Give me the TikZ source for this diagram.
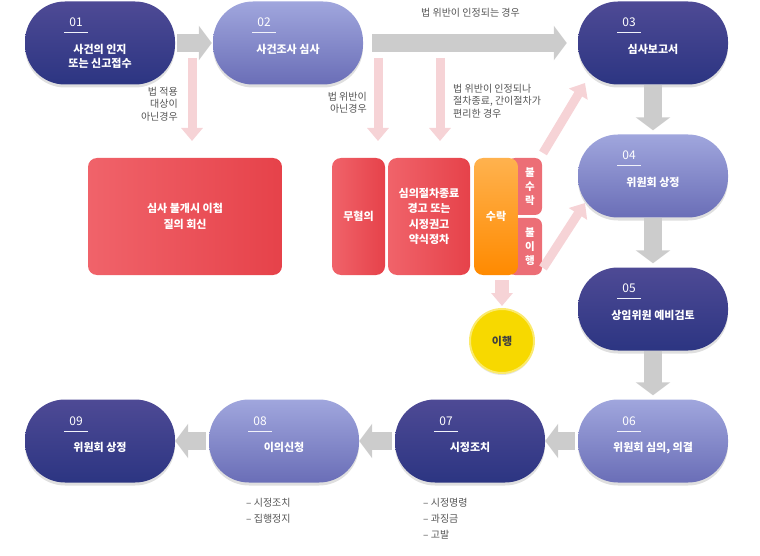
\documentclass[tikz,border=0pt]{standalone}
\usepackage{fontspec}
\setmainfont{Noto Sans CJK KR}
\usepackage{xcolor}
\usepackage{tikz}
\usetikzlibrary{arrows.meta,shapes,positioning,calc,shadows}
\definecolor{navytop}{HTML}{4E4A95}
\definecolor{navybot}{HTML}{2C3582}
\definecolor{lavtop}{HTML}{A0A6DD}
\definecolor{lavbot}{HTML}{6A6EB7}
\definecolor{redlt}{HTML}{F0636A}
\definecolor{reddk}{HTML}{E6424A}
\definecolor{sidepink}{HTML}{EC6E76}
\definecolor{orangetop}{HTML}{FFB24E}
\definecolor{orangebot}{HTML}{FF8A00}
\definecolor{yellowfill}{HTML}{F7D900}
\definecolor{yellowlt}{HTML}{FBEA6E}
\definecolor{arrgray}{HTML}{CCCCCC}
\definecolor{arrpink}{HTML}{F6D3D6}
\definecolor{labgray}{HTML}{555555}
\tikzstyle{pilldark}=[rectangle, rounded corners=40pt, minimum width=150pt, minimum height=83pt, top color=navytop, bottom color=navybot, drop shadow={shadow xshift=0pt, shadow yshift=-3pt, opacity=0.25}]
\tikzstyle{pilllight}=[pilldark, top color=lavtop, bottom color=lavbot]
\tikzstyle{pillnum}=[text=white, font=\fontsize{12}{12}\selectfont, minimum width=23pt, text height=8.5pt, text depth=0pt, inner ysep=6pt, inner xsep=0pt]
\tikzstyle{numline}=[draw=white!85!lavtop, line width=0.6pt]
\tikzstyle{pilltext}=[anchor=north, align=center, text=white, inner sep=0pt, font=\bfseries\fontsize{11}{14}\selectfont]
\tikzstyle{labeltxt}=[text=labgray, inner sep=0pt, font=\fontsize{10}{12.5}\selectfont]
\tikzstyle{listtxt}=[text=labgray, inner sep=0pt, anchor=north west, align=left, font=\fontsize{10}{16}\selectfont]
\tikzstyle{redbox}=[rectangle, rounded corners=9pt, minimum height=117pt, left color=redlt, right color=reddk, text=white, align=center, font=\bfseries\fontsize{11}{15.5}\selectfont]
\tikzstyle{sidebox}=[rectangle, rounded corners=7pt, minimum width=34pt, minimum height=57pt, fill=sidepink]
\tikzstyle{sidetext}=[text=white, align=center, inner sep=0pt, font=\bfseries\fontsize{10.5}{14}\selectfont]
\tikzstyle{orangebox}=[rectangle, rounded corners=9pt, minimum width=44pt, minimum height=117pt, top color=orangetop, bottom color=orangebot, text=white, font=\bfseries\fontsize{11}{13}\selectfont]
\tikzstyle{yellowcirc}=[circle, minimum size=64pt, fill=yellowfill, draw=yellowlt, line width=2pt, text=black!75, font=\bfseries\fontsize{11}{13}\selectfont, drop shadow={shadow xshift=0pt, shadow yshift=-2pt, opacity=0.2}]
\tikzstyle{grayarrow}=[draw=arrgray, line width=18pt, -{Triangle[width=34pt,length=13pt]}]
\tikzstyle{pinkarrow}=[draw=arrpink, line width=9pt, -{Triangle[width=21pt,length=13pt]}]

\begin{document}
\begin{tikzpicture}[x=1pt,y=-1pt]
\useasboundingbox (0,0) rectangle (760,556);
\node[pilldark] (p01) at (100,43) {};
\node[pilllight] (p02) at (288,43) {};
\node[pilldark] (p03) at (653,43) {};
\node[pilllight] (p04) at (653,176) {};
\node[pilldark] (p05) at (653,309) {};
\node[pilllight] (p06) at (653,441) {};
\node[pilldark] (p07) at (470,441) {};
\node[pilllight] (p08) at (284,441) {};
\node[pilldark] (p09) at (100,441) {};
\node[pillnum] (n01) at ($(p01.center)+(-24,-21)$) {01};
\node[pillnum] (n02) at ($(p02.center)+(-24,-21)$) {02};
\node[pillnum] (n03) at ($(p03.center)+(-24,-21)$) {03};
\node[pillnum] (n04) at ($(p04.center)+(-24,-21)$) {04};
\node[pillnum] (n05) at ($(p05.center)+(-24,-21)$) {05};
\node[pillnum] (n06) at ($(p06.center)+(-24,-20)$) {06};
\node[pillnum] (n07) at ($(p07.center)+(-24,-20)$) {07};
\node[pillnum] (n08) at ($(p08.center)+(-24,-20)$) {08};
\node[pillnum] (n09) at ($(p09.center)+(-24,-20)$) {09};
\draw[numline] (n01.south west) -- (n01.south east);
\draw[numline] (n02.south west) -- (n02.south east);
\draw[numline] (n03.south west) -- (n03.south east);
\draw[numline] (n04.south west) -- (n04.south east);
\draw[numline] (n05.south west) -- (n05.south east);
\draw[numline] (n06.south west) -- (n06.south east);
\draw[numline] (n07.south west) -- (n07.south east);
\draw[numline] (n08.south west) -- (n08.south east);
\draw[numline] (n09.south west) -- (n09.south east);
\node[pilltext] (t01) at ($(p01.center)+(0,1)$) {사건의 인지\\또는 신고접수};
\node[pilltext] (t02) at ($(p02.center)+(0,1)$) {사건조사 심사};
\node[pilltext] (t03) at ($(p03.center)+(0,1)$) {심사보고서};
\node[pilltext] (t04) at ($(p04.center)+(0,1)$) {위원회 상정};
\node[pilltext] (t05) at ($(p05.center)+(0,1)$) {상임위원 예비검토};
\node[pilltext] (t06) at ($(p06.center)+(0,1)$) {위원회 심의, 의결};
\node[pilltext] (t07) at ($(p07.center)+(0,1)$) {시정조치};
\node[pilltext] (t08) at ($(p08.center)+(0,1)$) {이의신청};
\node[pilltext] (t09) at ($(p09.center)+(0,1)$) {위원회 상정};
\draw[grayarrow, shorten <=2pt, shorten >=1pt] (p01.east) -- (p02.west);
\draw[grayarrow, shorten <=9pt, shorten >=11pt] (p02.east) -- (p03.west) node[midway, above=17pt, labeltxt] (l23) {법 위반이 인정되는 경우};
\draw[grayarrow, shorten >=4pt] (p03.south) -- (p04.north);
\draw[grayarrow, shorten >=4pt] (p04.south) -- (p05.north);
\draw[grayarrow, shorten >=4pt] (p05.south) -- (p06.north);
\draw[grayarrow, shorten <=3pt] (p06.west) -- (p07.east);
\draw[grayarrow, shorten <=3pt] (p07.west) -- (p08.east);
\draw[grayarrow, shorten <=3pt] (p08.west) -- (p09.east);
\node[redbox, minimum width=194pt] (rb1) at (185,216.5) {심사 불개시 이첩\\질의 회신};
\node[redbox, minimum width=53pt] (rb2) at (358.5,216.5) {무혐의};
\node[redbox, minimum width=82pt] (rb3) at (429,216.5) {심의절차종료\\경고 또는\\시정권고\\약식정차};
\node[sidebox] (bsr) at (525,186.5) {};
\node[sidebox] (bih) at (525,246.5) {};
\node[orangebox] (sr) at (496,216.5) {수락};
\node[sidetext] (bsrt) at ($(bsr.center)+(5,0)$) {불\\수\\락};
\node[sidetext] (biht) at ($(bih.center)+(5,0)$) {불\\이\\행};
\node[yellowcirc] (ih) at (502,341) {이행};
\coordinate (a1s) at (192,58);
\coordinate (a1e) at (192,141);
\coordinate (a2s) at (378,58);
\coordinate (a2e) at (378,141);
\coordinate (a3s) at (440,58);
\coordinate (a3e) at (440,141);
\coordinate (d1s) at (543,153);
\coordinate (d1e) at (585,83);
\coordinate (d2s) at (543,268);
\coordinate (d2e) at (585,203);
\draw[pinkarrow] (a1s) -- (a1e);
\draw[pinkarrow] (a2s) -- (a2e);
\draw[pinkarrow] (a3s) -- (a3e);
\draw[pinkarrow] (d1s) -- (d1e);
\draw[pinkarrow] (d2s) -- (d2e);
\draw[pinkarrow, line width=14pt, shorten <=5pt, shorten >=2pt] (sr.south -| ih.north) -- (ih.north);
\node[labeltxt, anchor=east, align=right] (l1) at (178,104) {법 적용\\대상이\\아닌경우};
\node[labeltxt, anchor=east, align=right] (l2) at (367,103) {법 위반이\\아닌경우};
\node[labeltxt, anchor=west, align=left] (l3) at (453,101) {법 위반이 인정되나\\절차종료, 간이절차가\\편리한 경우};
\node[listtxt] (l08) at (246,498) {– 시정조치\\– 집행정지};
\node[listtxt] (l07) at (423,498) {– 시정명령\\– 과징금\\– 고발};
\end{tikzpicture}
\end{document}
